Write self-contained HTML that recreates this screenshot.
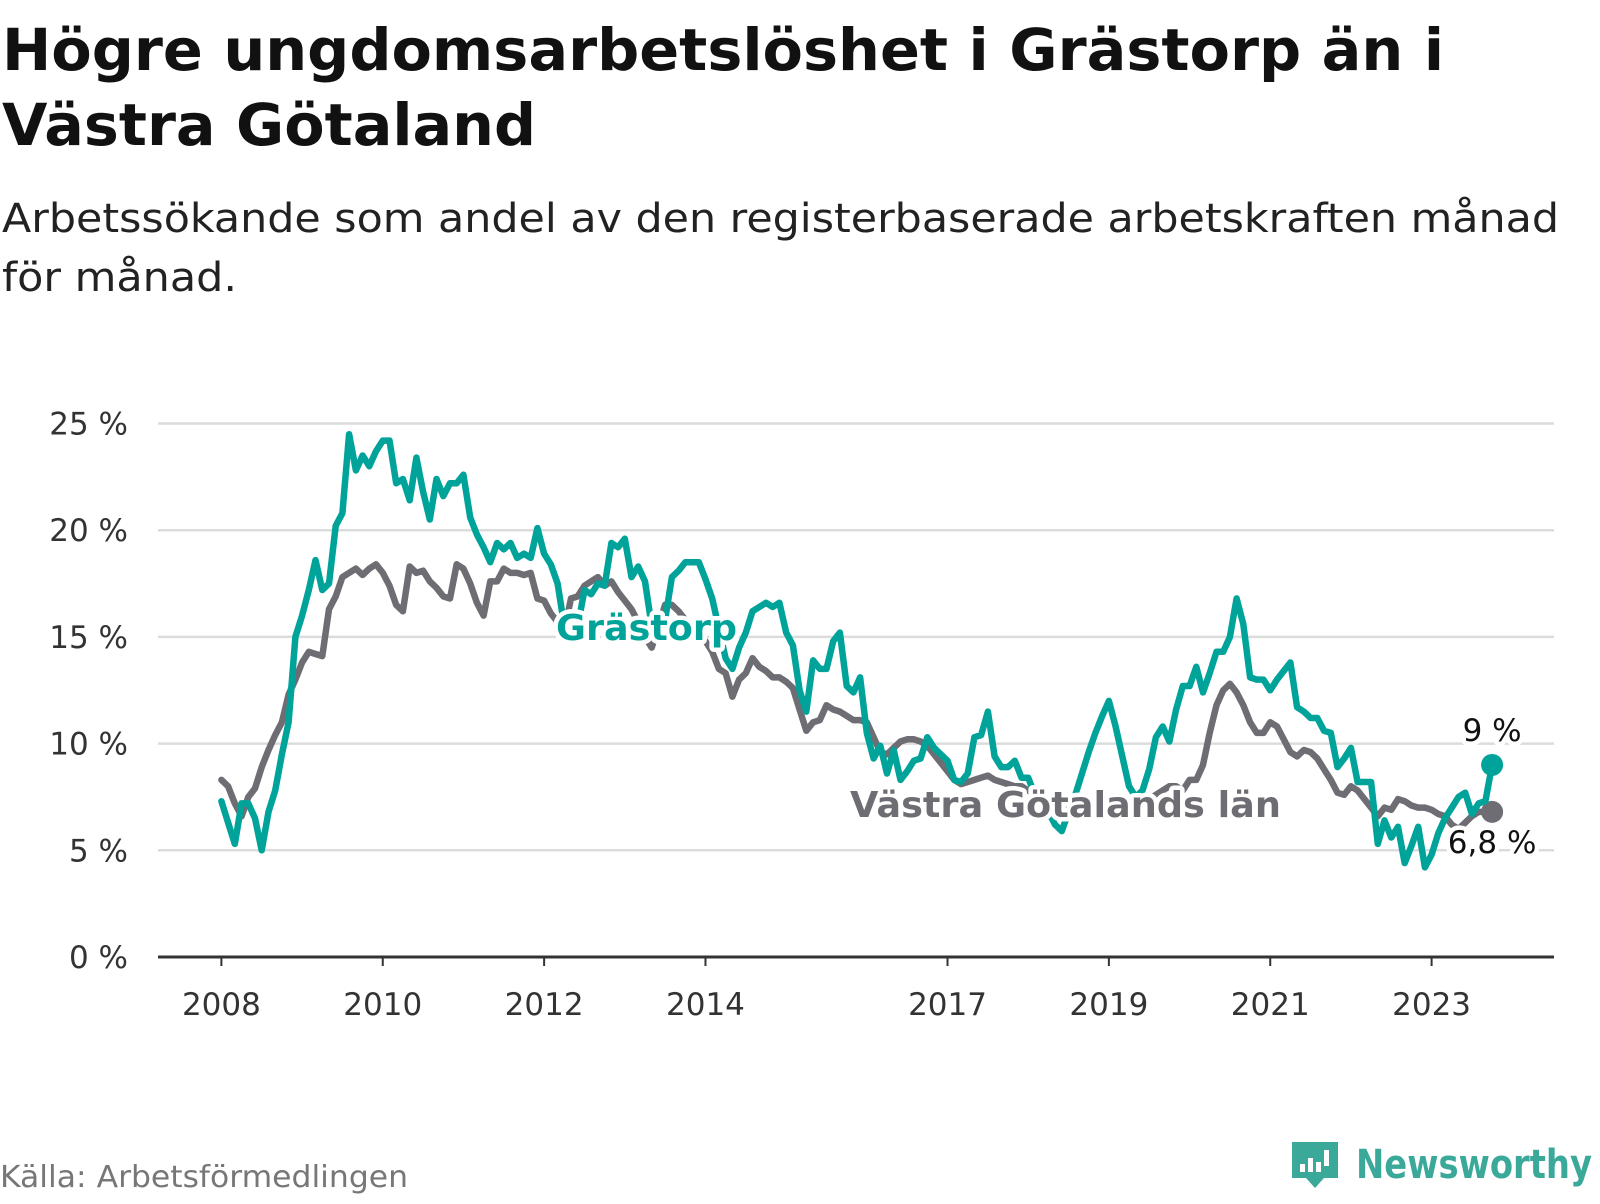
<!DOCTYPE html>
<html><head><meta charset="utf-8">
<style>
html,body{margin:0;padding:0;background:#fff;}
body{width:1600px;height:1200px;overflow:hidden;font-family:"DejaVu Sans","Liberation Sans",sans-serif;}
svg text{font-family:"DejaVu Sans","Liberation Sans",sans-serif;}
</style></head>
<body>
<svg id="chart" width="1600" height="1200" viewBox="0 0 1600 1200" xmlns="http://www.w3.org/2000/svg">
  <text x="2" y="70" font-size="58" font-weight="bold" fill="#111" textLength="1442" lengthAdjust="spacingAndGlyphs">Högre ungdomsarbetslöshet i Grästorp än i</text>
  <text x="2" y="145" font-size="58" font-weight="bold" fill="#111" textLength="534" lengthAdjust="spacingAndGlyphs">Västra Götaland</text>
  <text x="2" y="232" font-size="40" fill="#222" textLength="1557" lengthAdjust="spacingAndGlyphs">Arbetssökande som andel av den registerbaserade arbetskraften månad</text>
  <text x="2" y="291" font-size="40" fill="#222" textLength="235" lengthAdjust="spacingAndGlyphs">för månad.</text>
  <g id="grid"></g>
  <g id="yticks"></g>
  <g id="xticks"></g>
  <g id="lines"></g>
  <g id="labels"></g>
  <text x="0" y="1187" font-size="30" fill="#777" textLength="408" lengthAdjust="spacingAndGlyphs">Källa: Arbetsförmedlingen</text>
  <g>
    <path d="M1292 1142 h46 v36 h-14 l-9 10 l-9 -10 h-14 z" fill="#3aa99a"/>
    <rect x="1300" y="1164" width="5" height="8" fill="#fff"/>
    <rect x="1308" y="1158" width="5" height="14" fill="#fff"/>
    <rect x="1316" y="1162" width="5" height="10" fill="#fff"/>
    <rect x="1324" y="1150" width="5" height="16" fill="#fff"/>
    <text x="1356" y="1178" font-size="40" font-weight="bold" fill="#3aa99a" textLength="236" lengthAdjust="spacingAndGlyphs">Newsworthy</text>
  </g>
</svg>
<script>
const yTicks = [0, 5, 10, 15, 20, 25];
const yTickLabels = ["0 %", "5 %", "10 %", "15 %", "20 %", "25 %"];
const xTickYears = [2008, 2010, 2012, 2014, 2017, 2019, 2021, 2023];
const startYear = 2008;
const grastorp = [
 7.3,6.3,5.3,7.2,7.2,6.5,5.0,6.8,7.8,9.5,11.0,15.0,
 16.0,17.2,18.6,17.2,17.5,20.2,20.8,24.5,22.8,23.5,23.0,23.7,
 24.2,24.2,22.2,22.4,21.4,23.4,21.8,20.5,22.4,21.6,22.2,22.2,
 22.6,20.6,19.8,19.2,18.5,19.4,19.1,19.4,18.7,18.9,18.7,20.1,
 18.9,18.4,17.5,15.5,15.3,15.5,17.2,17.0,17.5,17.4,19.4,19.2,
 19.6,17.8,18.3,17.6,15.5,15.5,15.8,17.8,18.1,18.5,18.5,18.5,
 17.7,16.8,15.4,14.0,13.5,14.5,15.2,16.2,16.4,16.6,16.4,16.6,
 15.2,14.6,12.5,11.5,13.9,13.5,13.5,14.8,15.2,12.7,12.4,13.1,
 10.5,9.3,9.9,8.6,9.7,8.3,8.7,9.2,9.3,10.3,9.8,9.5,
 9.2,8.3,8.2,8.6,10.3,10.4,11.5,9.4,8.9,8.9,9.2,8.4,
 8.4,7.6,7.2,6.8,6.2,5.9,6.8,7.6,8.6,9.6,10.5,11.3,
 12.0,10.8,9.4,8.0,7.5,7.8,8.8,10.3,10.8,10.1,11.6,12.7,
 12.7,13.6,12.4,13.3,14.3,14.3,15.0,16.8,15.6,13.1,13.0,13.0,
 12.5,13.0,13.4,13.8,11.7,11.5,11.2,11.2,10.6,10.5,8.9,9.3,
 9.8,8.2,8.2,8.2,5.3,6.4,5.6,6.1,4.4,5.2,6.1,4.2,
 4.8,5.8,6.5,7.0,7.5,7.7,6.7,7.2,7.3,9.0
];
const vastra = [
 8.3,8.0,7.2,6.6,7.5,7.9,8.9,9.7,10.4,11.0,12.3,13.0,
 13.8,14.3,14.2,14.1,16.3,16.9,17.8,18.0,18.2,17.9,18.2,18.4,
 18.0,17.4,16.5,16.2,18.3,18.0,18.1,17.6,17.3,16.9,16.8,18.4,
 18.2,17.5,16.6,16.0,17.6,17.6,18.2,18.0,18.0,17.9,18.0,16.8,
 16.7,16.1,15.7,15.3,16.8,16.9,17.4,17.6,17.8,17.4,17.6,17.1,
 16.7,16.3,15.7,15.0,14.5,15.5,16.5,16.5,16.2,15.8,15.3,15.0,
 14.8,14.3,13.5,13.3,12.2,13.0,13.3,14.0,13.6,13.4,13.1,13.1,
 12.9,12.6,11.6,10.6,11.0,11.1,11.8,11.6,11.5,11.3,11.1,11.1,
 11.0,10.3,9.6,9.5,9.8,10.1,10.2,10.2,10.1,9.9,9.5,9.1,
 8.7,8.3,8.1,8.2,8.3,8.4,8.5,8.3,8.2,8.1,8.0,8.0,
 7.8,7.6,7.4,7.2,7.0,7.0,7.0,7.0,7.0,6.9,6.8,6.8,
 6.9,7.0,6.8,6.6,6.5,7.0,7.4,7.6,7.8,8.0,8.0,7.8,
 8.3,8.3,9.0,10.5,11.8,12.5,12.8,12.4,11.8,11.0,10.5,10.5,
 11.0,10.8,10.2,9.6,9.4,9.7,9.6,9.3,8.8,8.3,7.7,7.6,
 8.0,7.8,7.4,7.0,6.6,7.0,6.9,7.4,7.3,7.1,7.0,7.0,
 6.9,6.7,6.6,6.2,6.0,6.3,6.6,6.8,6.8,6.8
];
const NS = "http://www.w3.org/2000/svg";
const X0 = 221.4, X1 = 1431.6;
const Y0 = 957, Y25 = 423.5;
function xScale(monthIdx){ return X0 + (X1 - X0) * monthIdx / 180; }
function xYear(y){ return xScale((y - startYear) * 12); }
function yScale(v){ return Y0 + (Y25 - Y0) * v / 25; }
function mk(tag, attrs, parent){ const e = document.createElementNS(NS, tag); for (const k in attrs) e.setAttribute(k, attrs[k]); parent.appendChild(e); return e; }
const grid = document.getElementById('grid');
const yt = document.getElementById('yticks');
yTicks.forEach((t, i) => {
  if (t > 0) {
    const l = mk('line', {x1:158, x2:1554, y1:yScale(t), y2:yScale(t), stroke:'#dcdcdc', 'stroke-width':2.5}, grid);
    
    
  }
  const tx = mk('text', {x:128, y:yScale(t)+11, 'text-anchor':'end', 'font-size':31, fill:'#333'}, yt);
  
  
  tx.textContent = yTickLabels[i];
});
const base = mk('line', {x1:158, x2:1554, y1:Y0, y2:Y0, stroke:'#333', 'stroke-width':3}, grid);


const xt = document.getElementById('xticks');
xTickYears.forEach(yr => {
  const x = xYear(yr);
  const tk = mk('line', {x1:x, x2:x, y1:Y0, y2:Y0+9, stroke:'#333', 'stroke-width':2}, xt);
  
  
  const tx = mk('text', {x:x, y:1015, 'text-anchor':'middle', 'font-size':31, fill:'#333'}, xt);
  
  
  tx.textContent = yr;
});
const lines = document.getElementById('lines');
function drawLine(arr, color, name){
  const d = arr.map((v, i) => (i ? 'L' : 'M') + xScale(i).toFixed(1) + ' ' + yScale(v).toFixed(1)).join(' ');
  const p = mk('path', {d:d, fill:'none', stroke:color, 'stroke-width':6.5, 'stroke-linejoin':'round', 'stroke-linecap':'round'}, lines);
  
  
  const n = arr.length - 1;
  const c = mk('circle', {cx:xScale(n), cy:yScale(arr[n]), r:11, fill:color}, lines);
  
  
}
drawLine(vastra, '#6e6d73', 'vastra-gotaland-line');
drawLine(grastorp, '#00a399', 'grastorp-line');
const labels = document.getElementById('labels');
function label(txt, x, y, size, color, weight, anchor, name, len){
  const a = {x:x, y:y, 'font-size':size, fill:color, 'font-weight':weight, 'text-anchor':anchor, stroke:'#fff', 'stroke-width':9, 'stroke-linejoin':'round', 'paint-order':'stroke'};
  if (len) { a.textLength = len; a.lengthAdjust = 'spacingAndGlyphs'; }
  const t = mk('text', a, labels);
  
  
  t.textContent = txt;
}
const nLast = grastorp.length - 1;
label('Grästorp', 556, 640, 36, '#00a399', 'bold', 'start', 'grastorp-label', 181);
label('Västra Götalands län', 850, 817, 36, '#6e6d73', 'bold', 'start', 'vastra-gotaland-label', 431);
label(String(grastorp[nLast]).replace('.', ',') + ' %', xScale(nLast), yScale(grastorp[nLast]) - 24, 31, '#111', 'normal', 'middle', 'grastorp-value-label');
label(String(vastra[nLast]).replace('.', ',') + ' %', xScale(nLast), yScale(vastra[nLast]) + 41, 31, '#111', 'normal', 'middle', 'vastra-value-label');
</script>
</body></html>
